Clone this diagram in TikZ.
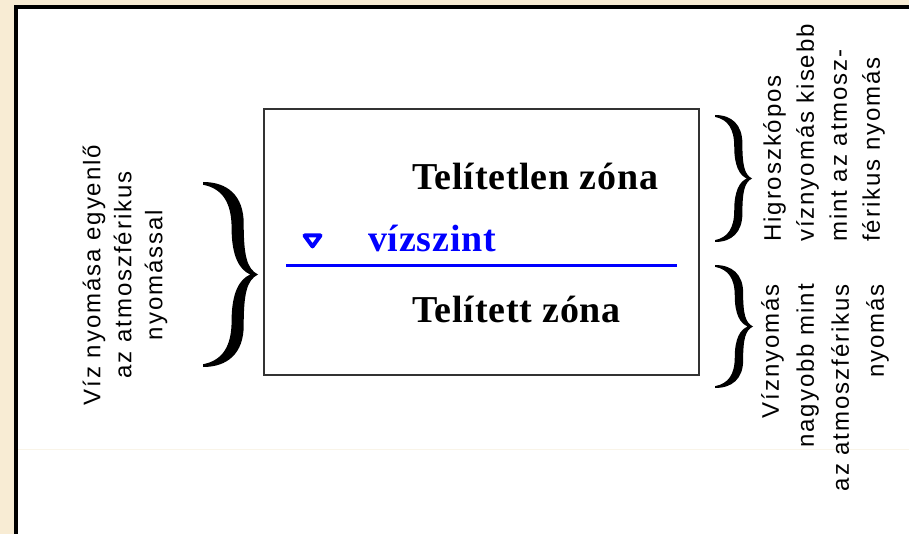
\documentclass[tikz,border=0pt]{standalone}
\usepackage{fontspec}
\setmainfont[LetterSpace=2]{Liberation Serif}
\newfontfamily\oldalfont[LetterSpace=8]{Liberation Sans}

\definecolor{papir}{RGB}{248,236,212}
\definecolor{vizkek}{RGB}{0,0,255}
\definecolor{halvany}{RGB}{249,244,232}

\tikzset{
  zonatext/.style={inner sep=0pt, anchor=base west,
    font=\bfseries\fontsize{28.5}{34}\selectfont},
  oldaltext/.style={inner sep=0pt, rotate=90,
    font=\oldalfont\fontsize{18}{#1}\selectfont},
  % kapcsos zárójel: (0,-1) felső vég, (1,0) csúcs, (0,1) alsó vég
  curlybrace/.pic={
    \fill (0,-1) .. controls (0.45,-1) and (0.74,-0.85) .. (0.74,-0.55)
      .. controls (0.74,-0.2) and (0.8,-0.06) .. (1,0)
      .. controls (0.8,0.06) and (0.74,0.2) .. (0.74,0.55)
      .. controls (0.74,0.85) and (0.45,1) .. (0,1)
      -- (0,0.97)
      .. controls (0.35,0.93) and (0.52,0.78) .. (0.52,0.5)
      .. controls (0.52,0.2) and (0.66,0.05) .. (0.86,0)
      .. controls (0.66,-0.05) and (0.52,-0.2) .. (0.52,-0.5)
      .. controls (0.52,-0.78) and (0.35,-0.93) .. (0,-0.97) -- cycle;
  }
}

\begin{document}
\begin{tikzpicture}[x=0.75pt, y=-0.75pt]
  \useasboundingbox (0,0) rectangle (909,534);

  % ========== háttér és keret ==========
  \fill[papir] (0,0) rectangle (909,534);
  \fill[white] (18,9) rectangle (909,534);
  \draw[black, line width=3pt] (16,534) -- (16,7) -- (909,7);
  \draw[halvany, line width=0.75pt] (18,449) -- (909,449);

  % ========== a talaj metszete ==========
  \draw[black!80, line width=1.1pt] (264,109) rectangle (699,375);

  \node[zonatext] (telitetlen) at (412,190) {Telítetlen zóna};
  \node[zonatext] (telitett) at (412,322) {Telített zóna};
  \node[zonatext, text=vizkek] (vizszint) at (368,252) {vízszint};

  % vízszint jele és vonala
  \draw[vizkek, line width=3pt, line join=round]
    (304.5,235.5) -- (320.5,235.5) -- (312.5,246.5) -- cycle;
  \coordinate (vonalA) at (286,266);
  \coordinate (vonalB) at (677,266);
  \draw[vizkek, line width=2.25pt] (vonalA) -- (vonalB);

  % ========== bal oldal ==========
  \pic[xscale=55, yscale=92.5] at (203,274.5) {curlybrace};
  \node[oldaltext=23.25, align=center] (bal) at (125,275)
    {Víz nyomása egyenlő\\az atmoszférikus\\nyomással};

  % ========== jobb oldal ==========
  \pic[xscale=37, yscale=63.5] at (715,178.5) {curlybrace};
  \node[oldaltext=24.75, align=left, anchor=west] (felso) at (824,242)
    {Higroszkópos\\víznyomás kisebb\\mint az atmosz-\\férikus nyomás};

  \pic[xscale=38, yscale=61.5] at (715,326.5) {curlybrace};
  \node[oldaltext=26.25, align=right, anchor=east] (also) at (825,284)
    {Víznyomás\\nagyobb mint\\az atmoszférikus\\nyomás};

\end{tikzpicture}
\end{document}
